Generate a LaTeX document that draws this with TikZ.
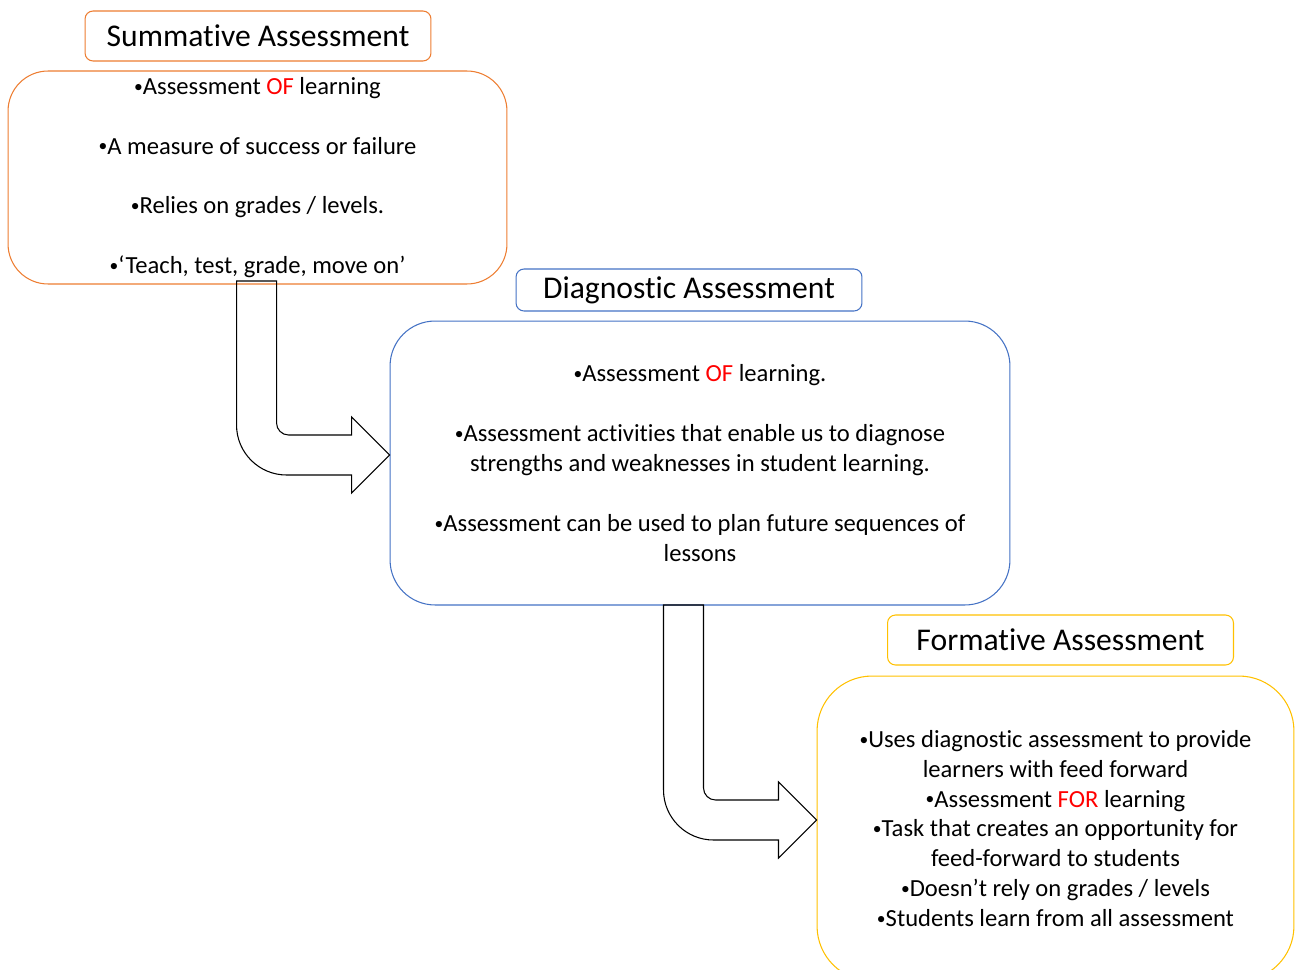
\documentclass[tikz,border=0pt]{standalone}
\usepackage{fontspec}
\setmainfont{Carlito}[Ligatures=NoCommon]
\usepackage{xcolor}
\usepackage{tikz}

\definecolor{sumorange}{RGB}{237,125,49}
\definecolor{diagblue}{RGB}{68,114,196}
\definecolor{formyellow}{RGB}{255,192,0}
\newcommand{\redword}[1]{\textcolor{red}{#1}}
\newcommand{\bul}{\raisebox{1.2pt}{\fontsize{10}{10}\selectfont •}}

\tikzset{
  titlebox/.style={draw=#1, line width=0.6pt, rounded corners=0.16cm, inner sep=0pt,
    minimum width=6.92cm, font=\fontsize{18}{22}\selectfont},
  bodybox/.style={draw=#1, line width=0.6pt, inner sep=0pt, align=center,
    font=\fontsize{14}{17}\selectfont},
  blockarrow/.style={draw=black, line width=0.6pt, line join=miter}
}

\begin{document}
\begin{tikzpicture}[x=0.02cm, y=-0.02cm]
        \useasboundingbox (0,0) rectangle (1296,970);

        % summative
        \node[titlebox=sumorange, minimum height=1cm] (sumtitle) at (258,36) {Summative Assessment};
        \node[bodybox=sumorange, rounded corners=0.8cm, minimum width=9.98cm, minimum height=4.26cm]
          (sumbody) at (257.5,177.5)
          {\bul Assessment \redword{OF} learning\\[17pt]
           \bul A measure of success or failure \\[17pt]
           \bul Relies on grades / levels. \\[17pt]
           \bul ‘Teach, test, grade, move on’};

        % diagnostic
        \node[titlebox=diagblue, minimum height=0.84cm] (diagtitle) at (689,290) {Diagnostic Assessment};
        \node[bodybox=diagblue, rounded corners=0.9cm, minimum width=12.4cm, minimum height=5.68cm]
          (diagbody) at (700,463)
          {\bul Assessment \redword{OF} learning.\\[17pt]
           \bul Assessment activities that enable us to diagnose \\
           strengths and weaknesses in student learning.\\[17pt]
           \bul Assessment can be used to plan future sequences of \\
           lessons};

        % formative
        \node[titlebox=formyellow, minimum height=1cm] (formtitle) at (1060.5,640) {Formative Assessment};
        \node[bodybox=formyellow, rounded corners=1.1cm, minimum width=9.54cm, minimum height=6.1cm]
          (formbody) at (1055.5,828.5)
          {\bul Uses diagnostic assessment to provide \\
           learners with feed forward\\
           \bul Assessment \redword{FOR} learning\\
           \bul Task that creates an opportunity for \\
           feed-forward to students\\
           \bul Doesn’t rely on grades / levels \\
           \bul Students learn from all assessment};

        \coordinate (tipA) at ([yshift=0.16cm]diagbody.west);
        \coordinate (tipB) at ([yshift=0.17cm]formbody.west);

        % bent arrows
        \begin{scope}[shift={(tipA)}]
          \draw[blockarrow] (-153,-174) -- (-113,-174) -- (-113,-32)
            .. controls (-113,-25.4) and (-107.6,-20) .. (-101,-20) -- (-38,-20) -- (-38,-38)
            -- (0,0) -- (-38,38) -- (-38,20) -- (-103,20)
            .. controls (-130.6,20) and (-153,-2.4) .. (-153,-30) -- cycle;
        \end{scope}
        \begin{scope}[shift={(tipB)}]
          \draw[blockarrow] (-153,-215) -- (-113,-215) -- (-113,-32)
            .. controls (-113,-25.4) and (-107.6,-20) .. (-101,-20) -- (-38,-20) -- (-38,-38)
            -- (0,0) -- (-38,38) -- (-38,20) -- (-103,20)
            .. controls (-130.6,20) and (-153,-2.4) .. (-153,-30) -- cycle;
        \end{scope}
      \end{tikzpicture}
\end{document}
